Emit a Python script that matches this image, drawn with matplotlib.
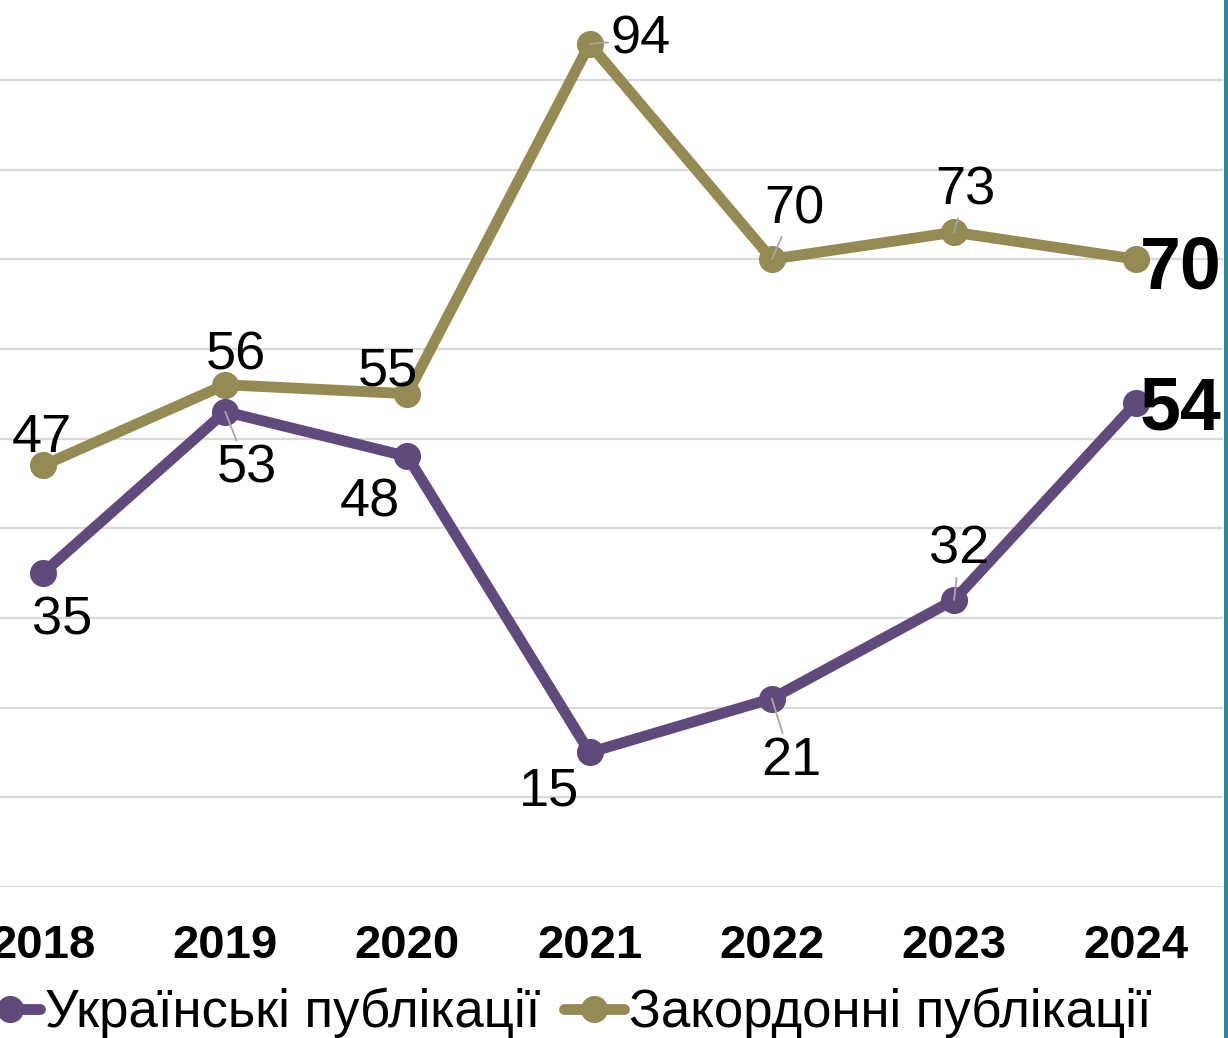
import numpy as np
import matplotlib
matplotlib.use('Agg')
import matplotlib.pyplot as plt
from matplotlib.lines import Line2D

plt.rcParams['font.family'] = ['Liberation Sans', 'DejaVu Sans']

# Data:
years = ['2018', '2019', '2020', '2021', '2022', '2023', '2024']
ukr = [35, 53, 48, 15, 21, 32, 54]
foreign = [47, 56, 55, 94, 70, 73, 70]
ukr_name = 'Українські публікації'
foreign_name = 'Закордонні публікації'

purple = '#604a7b'
olive = '#948a54'

fig = plt.figure(figsize=(12.28, 10.38), dpi=100)
# axes slightly cropped at left/top like the reference screenshot
ax = fig.add_axes([0.0, 0.1455, 1223 / 1228, 1 - 0.1455])
x = np.arange(len(years))

ax.plot(x, ukr, color=purple, lw=7.8, marker='o', ms=18.5, label=ukr_name,
        clip_on=False, zorder=3, solid_capstyle='round')
ax.plot(x, foreign, color=olive, lw=7.8, marker='o', ms=18.5, label=foreign_name,
        clip_on=False, zorder=3, solid_capstyle='round')

ax.set_xlim(-0.236, 6.476)
ax.set_ylim(0, 98.9)
ax.set_yticks(np.arange(0, 100, 10))
ax.yaxis.grid(True, color='#d9d9d9', lw=1.6)
ax.set_axisbelow(True)
ax.set_yticklabels([])
ax.tick_params(axis='y', length=0)
ax.set_xticks(x)
ax.set_xticklabels(years, fontsize=34, fontweight='bold')
ax.tick_params(axis='x', length=0, pad=27)
for s in ax.spines.values():
    s.set_visible(False)

# label offsets (points) and whether a leader line is drawn
ukr_off = [(14, -30, False), (16, -37, True), (-27, -29, False), (-29, -24, False),
           (14, -41, True), (4, 40, True), (32, 0, False)]
for_off = [(-1, 24, False), (8, 25, False), (-14, 20, False), (37, 7, True),
           (16, 40, True), (8, 34, True), (32, -2, False)]

def put_labels(vals, offs):
    for i, (v, (dx, dy, lead)) in enumerate(zip(vals, offs)):
        last = i == len(vals) - 1
        kw = dict(fontsize=53, fontweight='bold') if last else dict(fontsize=39)
        ap = dict(arrowstyle='-', color='#a6a6a6', lw=1.3, shrinkA=0, shrinkB=0) if lead else None
        ax.annotate(str(v), (x[i], v), xytext=(dx, dy), textcoords='offset points',
                    ha='center', va='center_baseline', arrowprops=ap,
                    annotation_clip=False, zorder=4, **kw)

put_labels(ukr, ukr_off)
put_labels(foreign, for_off)

fig.legend(loc='center left', bbox_to_anchor=(-0.016, 0.024), ncol=2, frameon=False,
           fontsize=38, handlelength=1.13, handletextpad=0.1, columnspacing=0.45,
           borderpad=0, borderaxespad=0, markerscale=1.0)

# teal strip at right edge
fig.add_artist(Line2D([1225.5 / 1228] * 2, [0, 1], color='#31859c', lw=3.6,
                      transform=fig.transFigure))

fig.savefig('out.png', dpi=100)
